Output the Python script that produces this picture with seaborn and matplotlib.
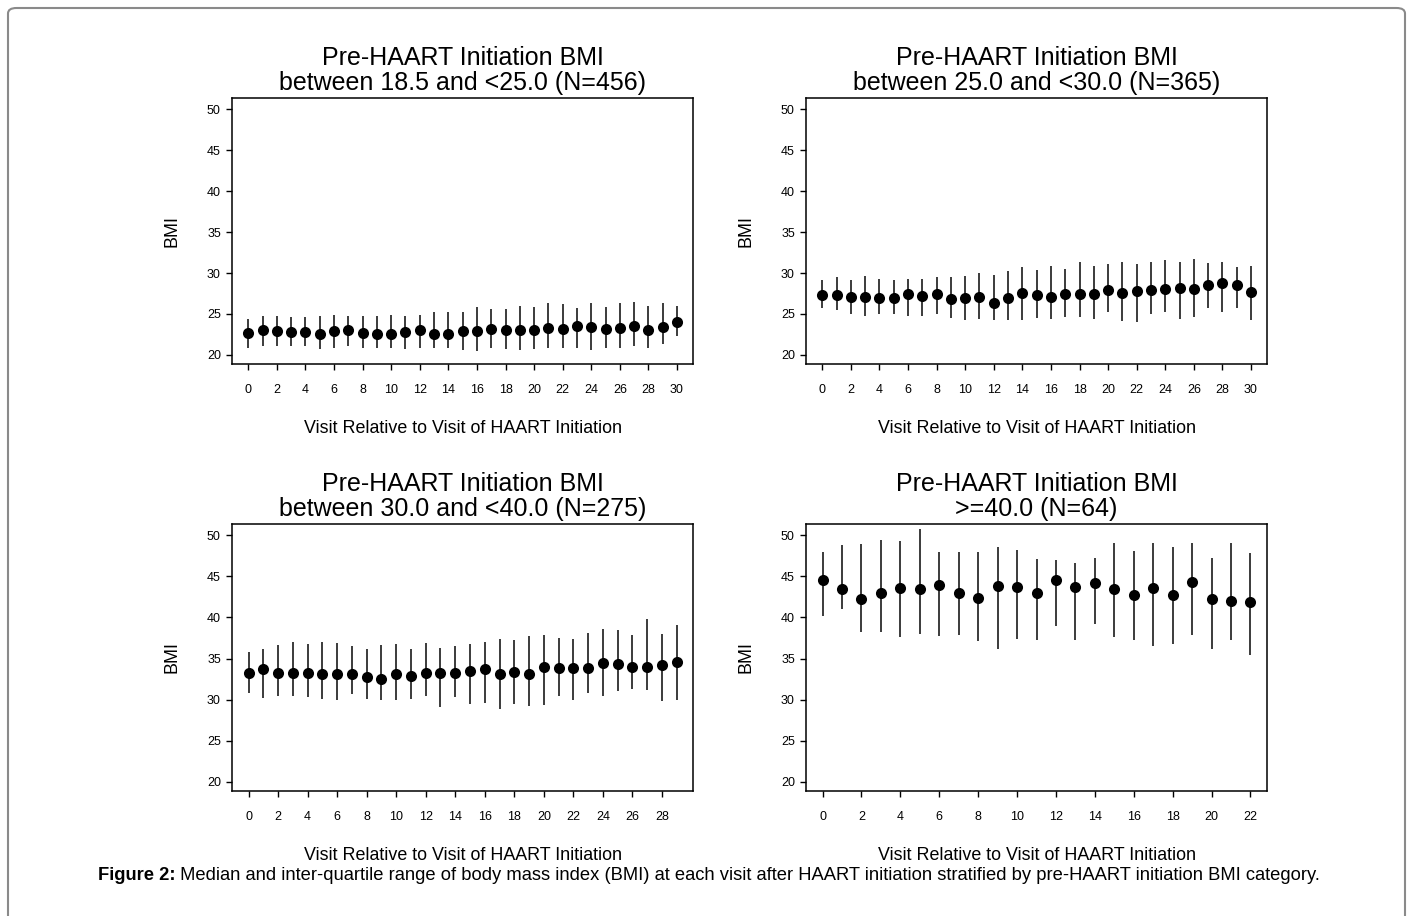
import matplotlib
matplotlib.use("Agg")
import matplotlib.pyplot as plt
from matplotlib.patches import FancyBboxPatch
import seaborn as sns
import pandas as pd
import numpy as np

# ---------------- data ----------------
titles = [
    "Pre-HAART Initiation BMI\nbetween 18.5 and <25.0 (N=456)",
    "Pre-HAART Initiation BMI\nbetween 25.0 and <30.0 (N=365)",
    "Pre-HAART Initiation BMI\nbetween 30.0 and <40.0 (N=275)",
    "Pre-HAART Initiation BMI\n>=40.0 (N=64)",
]

p1_median = [22.7, 23.0, 22.9, 22.8, 22.8, 22.6, 22.9, 23.0, 22.7, 22.6, 22.6, 22.8, 23.0, 22.6, 22.6,
             22.9, 22.9, 23.2, 23.0, 23.0, 23.0, 23.3, 23.2, 23.5, 23.4, 23.2, 23.3, 23.5, 23.0, 23.4, 24.0]
p1_q3 = [24.4, 24.8, 24.7, 24.6, 24.6, 24.8, 24.9, 24.8, 24.8, 24.7, 24.9, 24.8, 24.9, 25.3, 25.2,
         25.3, 25.8, 25.6, 25.6, 26.0, 25.9, 26.3, 26.2, 25.7, 26.3, 25.9, 26.3, 26.5, 26.0, 26.3, 26.0]
p1_q1 = [20.9, 21.1, 21.1, 21.1, 21.1, 20.7, 20.9, 21.1, 20.9, 20.9, 20.9, 20.7, 20.9, 20.9, 20.8,
         20.6, 20.5, 20.9, 20.7, 20.6, 20.7, 20.9, 20.9, 20.9, 20.6, 20.9, 20.9, 21.1, 20.8, 21.3, 22.3]

p2_median = [27.3, 27.3, 27.1, 27.1, 26.9, 26.9, 27.4, 27.2, 27.4, 26.8, 26.9, 27.1, 26.4, 26.9, 27.6,
             27.3, 27.1, 27.5, 27.5, 27.5, 27.9, 27.6, 27.8, 27.9, 28.1, 28.2, 28.1, 28.5, 28.8, 28.5, 27.7]
p2_q3 = [29.2, 29.5, 29.1, 29.6, 29.3, 29.2, 29.3, 29.3, 29.5, 29.5, 29.6, 30.0, 29.8, 30.2, 30.7,
         30.4, 30.8, 30.5, 31.3, 30.9, 31.1, 31.3, 31.1, 31.3, 31.6, 31.3, 31.7, 31.2, 31.4, 30.7, 30.9]
p2_q1 = [25.7, 25.5, 25.0, 24.8, 25.0, 25.0, 24.8, 24.8, 25.0, 24.5, 24.3, 24.4, 24.3, 24.3, 24.3,
         24.5, 24.4, 24.6, 24.6, 24.4, 25.2, 24.1, 24.0, 25.0, 25.2, 24.4, 24.6, 25.7, 25.3, 25.7, 24.3]

p3_median = [33.3, 33.7, 33.3, 33.3, 33.3, 33.1, 33.1, 33.1, 32.8, 32.5, 33.1, 32.9, 33.3, 33.3, 33.3,
             33.5, 33.7, 33.1, 33.4, 33.1, 34.0, 33.8, 33.9, 33.8, 34.5, 34.3, 34.0, 34.0, 34.2, 34.6]
p3_q3 = [35.8, 36.1, 36.6, 37.0, 36.8, 37.0, 36.9, 36.5, 36.1, 36.6, 36.8, 36.2, 36.9, 36.3, 36.5,
         36.8, 37.0, 37.4, 37.2, 37.7, 37.8, 37.5, 37.4, 38.1, 38.6, 38.5, 37.8, 39.8, 38.0, 39.1]
p3_q1 = [30.8, 30.2, 30.4, 30.5, 30.3, 30.1, 30.0, 30.7, 30.1, 30.0, 30.0, 30.1, 30.4, 29.1, 30.3,
         29.5, 29.6, 28.9, 29.5, 29.2, 29.4, 30.4, 29.9, 30.8, 30.4, 31.0, 31.3, 31.2, 29.8, 29.9]

p4_median = [44.5, 43.5, 42.2, 43.0, 43.6, 43.4, 43.9, 43.0, 42.4, 43.8, 43.7, 43.0, 44.6, 43.7, 44.2,
             43.5, 42.7, 43.6, 42.7, 44.3, 42.2, 42.0, 41.9]
p4_q3 = [48.0, 48.8, 48.9, 49.4, 49.3, 50.7, 48.0, 48.0, 48.0, 48.6, 48.2, 47.1, 47.0, 46.6, 47.2,
         49.0, 48.1, 49.1, 48.5, 49.0, 47.2, 49.1, 47.8]
p4_q1 = [40.2, 41.0, 38.2, 38.2, 37.6, 38.0, 37.7, 37.8, 37.1, 36.1, 37.4, 37.2, 39.0, 37.2, 39.2,
         37.6, 37.2, 36.5, 36.8, 37.8, 36.1, 37.2, 35.4]

medians = [p1_median, p2_median, p3_median, p4_median]
q1s = [p1_q1, p2_q1, p3_q1, p4_q1]
q3s = [p1_q3, p2_q3, p3_q3, p4_q3]
xtick_max = [30, 30, 28, 22]
yticks = [20, 25, 30, 35, 40, 45, 50]

xlabel = "Visit Relative to Visit of HAART Initiation"
ylabel = "BMI"
caption_bold = "Figure 2:"
caption_rest = (" Median and inter-quartile range of body mass index (BMI) at each visit after "
                "HAART initiation stratified by pre-HAART initiation BMI category.")

# ---------------- style ----------------
sns.set_style("ticks")
plt.rcParams["font.family"] = ["Liberation Sans", "DejaVu Sans"]
plt.rcParams.update({"text.color": "black", "axes.labelcolor": "black",
                     "xtick.color": "black", "ytick.color": "black",
                     "axes.edgecolor": "black"})

W, H = 1413, 916
fig = plt.figure(figsize=(W / 100, H / 100), dpi=100)

# axes boxes in pixel coords: (left, top, right, bottom)
boxes = [(232, 98, 693, 364), (806, 98, 1267, 364),
         (232, 524, 693, 791), (806, 524, 1267, 791)]
xlims = [(-1.14, 31.12), (-1.14, 31.12), (-1.12, 30.1), (-0.85, 22.85)]

for i in range(4):
    l, t, r, b = boxes[i]
    ax = fig.add_axes([l / W, 1 - b / H, (r - l) / W, (b - t) / H])
    n = len(medians[i])
    df = pd.DataFrame({"visit": np.arange(n), "median": medians[i],
                       "q1": q1s[i], "q3": q3s[i]})
    ax.vlines(df["visit"], df["q1"], df["q3"], color="#1a1a1a", linewidth=1.2, zorder=2)
    sns.scatterplot(data=df, x="visit", y="median", ax=ax, color="black", s=64,
                    edgecolor="black", linewidth=0, zorder=3, legend=False)
    ax.set_xlim(*xlims[i])
    ax.set_ylim(18.9, 51.35)
    ax.set_xticks(np.arange(0, xtick_max[i] + 1, 2))
    ax.set_yticks(yticks)
    ax.tick_params(axis="x", labelsize=9, length=4, width=1, pad=10.5, color="black",
                   labelcolor="black")
    ax.tick_params(axis="y", labelsize=9, length=4, width=1, pad=4, color="black",
                   labelcolor="black")
    for s in ax.spines.values():
        s.set_visible(True)
        s.set_color("black")
        s.set_linewidth(1.1)
    ax.set_title(titles[i], fontsize=18, pad=6, linespacing=1.02, color="black")
    ax.set_xlabel(xlabel, fontsize=12.9, color="black")
    ax.set_ylabel(ylabel, fontsize=12.9, color="black")
    ax.xaxis.set_label_coords(0.5, -65 / (b - t))
    ax.xaxis.label.set_va("center")
    ax.yaxis.set_label_coords(-60 / (r - l), 0.5)
    ax.yaxis.label.set_va("center")

# caption
cy = 1 - 875 / H
csize = 13.2
t1 = fig.text(0.5, cy, caption_bold + caption_rest, fontsize=csize,
              ha="center", va="center", color="white")
fig.canvas.draw()
bb = t1.get_window_extent()
t1.remove()
x0 = bb.x0 / W
tb = fig.text(x0, cy, caption_bold, fontsize=csize, fontweight="bold",
              ha="left", va="center", color="black")
fig.canvas.draw()
bb2 = tb.get_window_extent()
fig.text(bb2.x1 / W, cy, caption_rest, fontsize=csize, ha="left", va="center", color="black")

# outer frame (open at bottom)
frame = FancyBboxPatch((8 / W, -0.05), (1405 - 8) / W, (H - 8) / H + 0.05,
                       boxstyle="round,pad=0,rounding_size=0.006",
                       transform=fig.transFigure, fill=False,
                       edgecolor="#8a8a8a", linewidth=1.5)
fig.patches.append(frame)

fig.savefig("out.png", dpi=100)
